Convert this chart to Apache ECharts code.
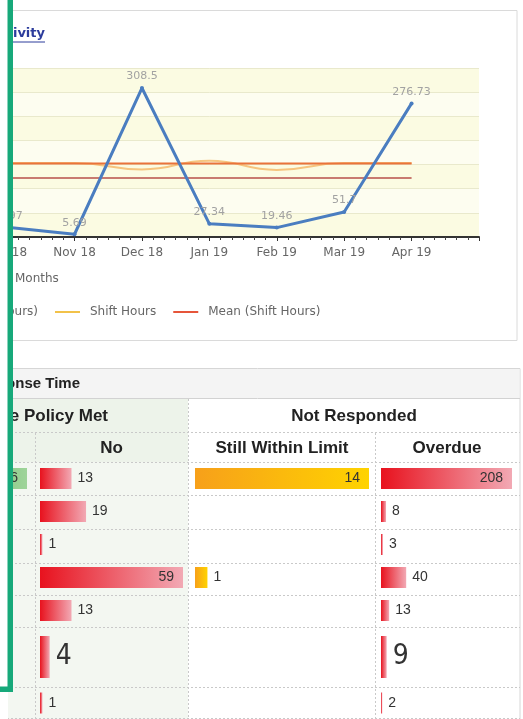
<!DOCTYPE html>
<html><head><meta charset="utf-8">
<script src="https://cdn.jsdelivr.net/npm/echarts@6/dist/echarts.min.js"></script>
<style>html,body{margin:0;padding:0;background:#fff;overflow:hidden;width:523px;height:719px;position:relative}
#c{position:absolute;left:-120px;top:0;width:643px;height:719px}</style>
</head><body><div id="c"></div>
<script>
// ---- line chart data ----
const months = ['Oct 18','Nov 18','Dec 18','Jan 19','Feb 19','Mar 19','Apr 19'];
const productiveHours = [19.97, 5.69, 308.5, 27.34, 19.46, 51.7, 276.73];
const shiftHours = [153, 153, 140, 158, 139, 153, 153];
const meanProductive = [122, 122, 122, 122, 122, 122, 122];
const meanShift = [152, 152, 152, 152, 152, 152, 152];
const legendNames = ['Productive Hours','Mean (Productive Hours)','Shift Hours','Mean (Shift Hours)'];

// ---- table data ----
const yesVals = [36, null, null, null, null, null, null];
const noVals = [13, 19, 1, 59, 13, 4, 1];
const withinVals = [14, null, null, 1, null, null, null];
const overdueVals = [208, 8, 3, 40, 13, 9, 2];
const headerTitle = 'Response Time';
const headerGroups = ['Response Policy Met', 'Not Responded'];
const headerCols = ['No', 'Still Within Limit', 'Overdue'];

const OX = 120; // canvas is shifted left by this many pixels
const chart = echarts.init(document.getElementById('c'));
const FONT = 'DejaVu Sans';
const BFONT = 'Liberation Sans, Arial, sans-serif';

const grids = [], xAxes = [], yAxes = [], series = [];

// line chart grid
grids.push({left: OX - 60.3, right: 44, top: 68, height: 169});
xAxes.push({type:'value', gridIndex:0, min:-1, max:7, interval:1,
  axisLine:{lineStyle:{color:'#333', width:2}},
  axisTick:{length:4, lineStyle:{color:'#333'}},
  minorTick:{show:true, splitNumber:6, length:3, lineStyle:{color:'#444'}},
  splitLine:{show:false}, minorSplitLine:{show:false},
  axisLabel:{color:'#666', fontSize:12, fontFamily:FONT, margin:10,
    formatter: v => (Number.isInteger(v) && v >= 0 && v < months.length) ? months[v] : ''}
});
yAxes.push({type:'value', gridIndex:0, min:0, max:350, interval:50,
  axisLine:{show:false}, axisTick:{show:false}, axisLabel:{show:false},
  splitLine:{lineStyle:{color:'#e9e9cc'}},
  splitArea:{show:true, areaStyle:{color:['#fbfbe2','#fdfdf0']}}
});
const pairs = arr => arr.map((v,i)=>[i,v]);
series.push({type:'line', name:legendNames[1], xAxisIndex:0, yAxisIndex:0, data:pairs(meanProductive),
  symbol:'none', lineStyle:{color:'#b8504a', width:1.5}, itemStyle:{color:'#b8504a'}, z:3});
series.push({type:'line', name:legendNames[2], xAxisIndex:0, yAxisIndex:0, data:pairs(shiftHours),
  smooth:true, symbol:'none', lineStyle:{color:'#f6c47e', width:2}, itemStyle:{color:'#f2c24a'}, z:3});
series.push({type:'line', name:legendNames[3], xAxisIndex:0, yAxisIndex:0, data:pairs(meanShift),
  symbol:'none', lineStyle:{color:'#e9733a', width:2}, itemStyle:{color:'#e6553a'}, z:3});
series.push({type:'line', name:legendNames[0], xAxisIndex:0, yAxisIndex:0, data:pairs(productiveHours),
  symbol:'circle', symbolSize:4, lineStyle:{color:'#4a7dc0', width:3}, itemStyle:{color:'#4a7dc0'},
  label:{show:true, position:'top', distance:4, color:'#a2a2a2', fontSize:11, fontFamily:FONT,
    formatter: p => String(p.value[1])}, z:5});

// ---- table bars ----
const grad = (a,b) => new echarts.graphic.LinearGradient(0,0,1,0,[{offset:0,color:a},{offset:1,color:b}]);
const cols = [
  {vals:yesVals, x0:-110, x1:27, c:['#3f9e3f','#9fd49a']},
  {vals:noVals, x0:40, x1:183, c:['#e8121e','#f2a9b4']},
  {vals:withinVals, x0:195, x1:369, c:['#f7a01a','#ffd300']},
  {vals:overdueVals, x0:381, x1:512, c:['#e8121e','#f2a9b4']}
];
const groups = [
  {from:0, to:5, top:462, h:165, barH:21, big:false},
  {from:5, to:6, top:627, h:60, barH:42, big:true},
  {from:6, to:7, top:687, h:32, barH:21, big:false}
];
cols.forEach(col => {
  const mx = Math.max(...col.vals.filter(v => v != null));
  const w = col.x1 - col.x0;
  groups.forEach(g => {
    const gi = grids.length;
    grids.push({left:col.x0 + OX, width:w, top:g.top, height:g.h});
    const idx = [];
    for (let r = g.from; r < g.to; r++) idx.push('r' + r);
    xAxes.push({type:'value', gridIndex:gi, min:0, max:mx, show:false});
    yAxes.push({type:'category', gridIndex:gi, data:idx, inverse:true, show:false});
    const data = idx.map((_, k) => {
      const v = col.vals[g.from + k];
      if (v == null) return '-';
      const px = v / mx * w;
      const inside = px > 60;
      return {value:v, itemStyle:{color:grad(col.c[0], col.c[1])},
        label:{position: inside ? 'insideRight' : 'right', distance: inside ? 9 : 6}};
    });
    series.push({type:'bar', xAxisIndex:gi, yAxisIndex:gi, data, barWidth:g.barH, silent:true,
      label:{show:true, color:'#333',
        fontSize: g.big ? 28 : 14,
        fontFamily: g.big ? 'Liberation Sans Narrow, DejaVu Sans Condensed, Arial Narrow, sans-serif' : BFONT},
      z:4});
  });
});

// ---- graphics ----
const gfx = [];
const X = v => v + OX;
const dot = {stroke:'#c9c9c9', lineWidth:1, lineDash:[2,2]};
// top card
gfx.push({type:'rect', shape:{x:X(-5), y:10.5, width:522, height:330}, style:{fill:'#fff', stroke:'#dadada', lineWidth:1}, z:-20});
gfx.push({type:'text', x:X(45), y:34, style:{text:'Productivity', textAlign:'right', textVerticalAlign:'middle', font:'bold 13px ' + FONT, fill:'#2c3c9c'}, z:10});
gfx.push({type:'line', shape:{x1:X(-60), y1:42, x2:X(45), y2:42}, style:{stroke:'#2c3c9c', lineWidth:1}, z:10});
gfx.push({type:'text', x:X(15), y:279, style:{text:'Months', textAlign:'left', textVerticalAlign:'middle', font:'12px ' + FONT, fill:'#666'}, z:10});
// table card
gfx.push({type:'rect', shape:{x:X(-5), y:368.5, width:525, height:360}, style:{fill:'#fff', stroke:'#d6d6d6', lineWidth:1}, z:-20});
gfx.push({type:'rect', shape:{x:X(-5), y:369, width:524.5, height:29}, style:{fill:'#f4f4f4'}, z:-19});
gfx.push({type:'line', shape:{x1:X(-5), y1:398.5, x2:X(520), y2:398.5}, style:{stroke:'#d2d2d2', lineWidth:1}, z:-18});
gfx.push({type:'rect', shape:{x:X(-5), y:399, width:193, height:63}, style:{fill:'#edf3ea'}, z:-19});
gfx.push({type:'rect', shape:{x:X(-5), y:462, width:193, height:260}, style:{fill:'#f3f7f1'}, z:-19});
gfx.push({type:'text', x:X(80), y:384, style:{text:headerTitle, textAlign:'right', textVerticalAlign:'middle', font:'bold 15px ' + BFONT, fill:'#222'}, z:10});
gfx.push({type:'text', x:X(108), y:416, style:{text:headerGroups[0], textAlign:'right', textVerticalAlign:'middle', font:'bold 17px ' + BFONT, fill:'#222'}, z:10});
gfx.push({type:'text', x:X(354), y:416, style:{text:headerGroups[1], textAlign:'center', textVerticalAlign:'middle', font:'bold 17px ' + BFONT, fill:'#222'}, z:10});
[[111.5, headerCols[0]], [282, headerCols[1]], [447, headerCols[2]]].forEach(([x, t]) => {
  gfx.push({type:'text', x:X(x), y:448, style:{text:t, textAlign:'center', textVerticalAlign:'middle', font:'bold 17px ' + BFONT, fill:'#222'}, z:10});
});
[432.5, 462.5, 495.5, 529.5, 563.5, 595.5, 627.5, 687.5, 718.5].forEach(y => {
  gfx.push({type:'line', shape:{x1:X(-5), y1:y, x2:X(520), y2:y}, style:dot, z:-15});
});
gfx.push({type:'line', shape:{x1:X(188.5), y1:399, x2:X(188.5), y2:719}, style:dot, z:-15});
[35.5, 375.5].forEach(x => gfx.push({type:'line', shape:{x1:X(x), y1:433, x2:X(x), y2:719}, style:dot, z:-15}));
// annotation bracket
gfx.push({type:'rect', shape:{x:0, y:0, width:X(8), height:719}, style:{fill:'#fff'}, z:100});
gfx.push({type:'rect', shape:{x:X(7.5), y:0, width:5.5, height:692}, style:{fill:'#17a97a'}, z:101});
gfx.push({type:'rect', shape:{x:X(0), y:686.5, width:13, height:5.5}, style:{fill:'#17a97a'}, z:101});

// legend placement: first legend must end at x=38 (screen)
const LFS = 12;
const ctx = document.createElement('canvas').getContext('2d');
ctx.font = LFS + 'px ' + FONT;
const ICON_W = 25, TXT_GAP = 10, ITEM_GAP = 17;
const itemW = name => ICON_W + TXT_GAP + ctx.measureText(name).width;
const legAWidth = itemW(legendNames[0]) + ITEM_GAP + itemW(legendNames[1]);
const legendText = {color:'#666', fontSize:LFS, fontFamily:FONT, padding:[0,0,0,TXT_GAP - 5]};
const legCommon = {padding:0, itemWidth:ICON_W, itemHeight:2, itemGap:ITEM_GAP, icon:'rect', textStyle:legendText, top:306};
chart.setOption({
  animation:false,
  backgroundColor:'#fff',
  grid:grids, xAxis:xAxes, yAxis:yAxes, series,
  legend:[
    Object.assign({data:[legendNames[0], legendNames[1]], left: X(38) - legAWidth}, legCommon),
    Object.assign({data:[legendNames[2], legendNames[3]], left: X(55)}, legCommon)
  ],
  graphic:gfx
});
</script></body></html>
